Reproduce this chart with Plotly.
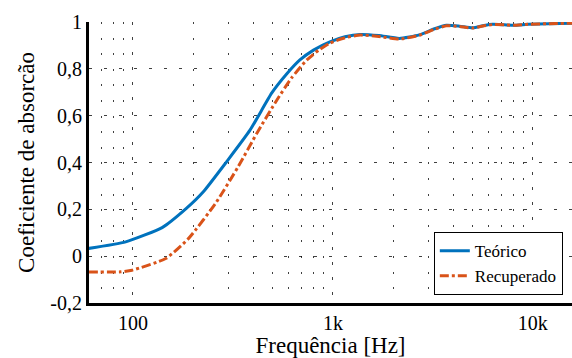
import numpy as np
import plotly.graph_objects as go

# Data
freq_teo = [60, 92, 140, 185, 225, 294, 385, 495, 590, 684, 800, 966, 1150,
            1370, 1700, 2150, 2700, 3200, 3700, 4300, 5000, 5700, 6300, 7200, 8000, 9500,
            12000, 16000]
alpha_teo = [0.033, 0.061, 0.122, 0.204, 0.275, 0.403, 0.538, 0.697, 0.78, 0.838,
             0.88, 0.915, 0.937, 0.947, 0.942, 0.93, 0.945, 0.97, 0.986, 0.982, 0.975, 0.985,
             0.99, 0.988, 0.986, 0.99, 0.993, 0.995]

freq_rec = [60, 87, 99, 146, 190, 262, 336, 416, 525, 620, 741, 850, 966, 1150,
            1370, 1700, 2150, 2700, 3200, 3700, 4300, 5000, 5700, 6300, 7200, 8000, 9500,
            12000, 16000]
alpha_rec = [-0.068, -0.067, -0.06, -0.01, 0.076, 0.232, 0.382, 0.524, 0.667, 0.76, 0.838,
             0.88, 0.91, 0.933, 0.944, 0.938, 0.927, 0.943, 0.968, 0.984, 0.981, 0.974, 0.984,
             0.989, 0.988, 0.986, 0.99, 0.993, 0.995]

x_tickvals = [100, 1000, 10000]
x_ticktext = ["100", "1k", "10k"]
y_tickvals = [-0.2, 0, 0.2, 0.4, 0.6, 0.8, 1.0]
y_ticktext = ["-0,2", "0", "0,2", "0,4", "0,6", "0,8", "1"]
minor_x = [m * 10 ** k for k in range(1, 5) for m in range(2, 10)]

FONT = "Liberation Serif, Times New Roman, serif"

fig = go.Figure()
fig.add_trace(go.Scatter(x=freq_teo, y=alpha_teo, mode="lines", name="Teórico",
                         line=dict(color="#0072BD", width=3, shape="spline", smoothing=0.5)))
fig.add_trace(go.Scatter(x=freq_rec, y=alpha_rec, mode="lines", name="Recuperado",
                         line=dict(color="#D95319", width=3, dash="dashdot", shape="spline", smoothing=0.5)))

fig.update_layout(
    width=572, height=358,
    margin=dict(l=89, r=0, t=22, b=55),
    plot_bgcolor="white", paper_bgcolor="white",
    font=dict(family=FONT, color="black", size=20),
    legend=dict(x=0.981, y=0.028, xanchor="right", yanchor="bottom",
                bordercolor="black", borderwidth=1, bgcolor="white",
                font=dict(size=17, family=FONT), itemwidth=30,
                tracegroupgap=0),
    xaxis=dict(type="log", range=[np.log10(60.3), np.log10(15700)],
               tickvals=x_tickvals, ticktext=x_ticktext, ticks="",
               showline=True, linecolor="black", linewidth=3,
               showgrid=True, gridcolor="rgba(0,0,0,0.75)", gridwidth=1, griddash="3px,12px",
               minor=dict(tickvals=minor_x, showgrid=True, gridcolor="rgba(0,0,0,0.75)",
                          gridwidth=1, griddash="2px,13.6px", ticks=""),
               title=dict(text="Frequência [Hz]", font=dict(size=23, family=FONT), standoff=4),
               zeroline=False, tickfont=dict(size=20, family=FONT)),
    yaxis=dict(range=[-0.2, 1.0], tickvals=y_tickvals, ticktext=y_ticktext, ticks="",
               showline=True, linecolor="black", linewidth=3,
               showgrid=True, gridcolor="rgba(0,0,0,0.75)", gridwidth=1, griddash="3px,12px",
               title=dict(text="Coeficiente de absorcão", font=dict(size=23, family=FONT), standoff=10),
               zeroline=False, tickfont=dict(size=20, family=FONT)),
)

fig.write_html("out.html")
